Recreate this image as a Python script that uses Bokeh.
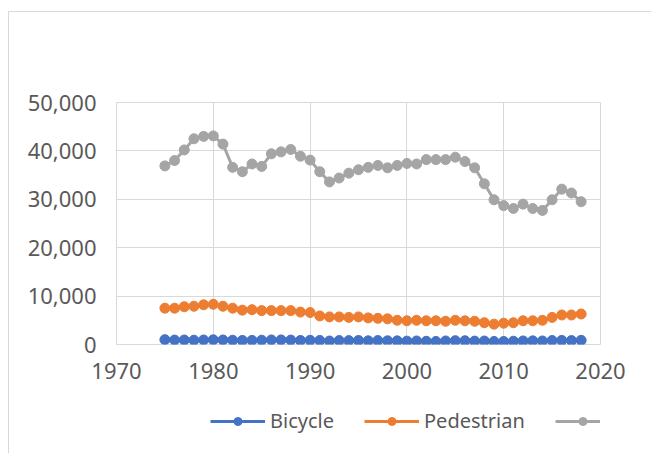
from bokeh.plotting import figure
from bokeh.layouts import column
from bokeh.models import FixedTicker, NumeralTickFormatter, Range1d, Legend, LegendItem
from bokeh.embed import file_html
from bokeh.resources import INLINE

years = list(range(1975, 2019))
bicycle = [1003, 915, 922, 892, 932, 965, 936, 883, 839, 849, 890, 941, 948, 911, 832,
           859, 843, 723, 816, 802, 833, 765, 814, 760, 754, 693, 732, 665, 629, 727,
           786, 772, 701, 718, 628, 623, 682, 734, 749, 729, 818, 852, 806, 857]
pedestrian = [7500, 7500, 7800, 7900, 8200, 8300, 7900, 7500, 7100, 7200, 7000, 7000, 7000, 7000, 6700,
              6600, 5900, 5700, 5700, 5600, 5700, 5500, 5400, 5300, 5000, 4900, 5000, 4900, 4900, 4800,
              5000, 4900, 4800, 4500, 4200, 4400, 4500, 4900, 4900, 5000, 5600, 6100, 6100, 6300]
other = [36900, 38000, 40200, 42500, 43000, 43100, 41400, 36600, 35700, 37300, 36800, 39400, 39800, 40300, 38900,
         38100, 35700, 33600, 34400, 35400, 36100, 36600, 37000, 36500, 37000, 37400, 37300, 38200, 38200, 38200,
         38700, 37800, 36500, 33200, 29900, 28700, 28100, 29000, 28100, 27700, 29900, 32100, 31300, 29500]

series_names = ["Bicycle", "Pedestrian", "Other"]
series_values = [bicycle, pedestrian, other]
colors = ["#4472C4", "#ED7D31", "#A5A5A5"]
x_ticks = [1970, 1980, 1990, 2000, 2010, 2020]
y_ticks = [0, 10000, 20000, 30000, 40000, 50000]

FONT = "Noto Sans"
TXT = "#595959"
GRID = "#d9d9d9"

# main chart
p = figure(frame_width=484, frame_height=242, output_backend="svg", toolbar_location=None,
           x_range=Range1d(1970, 2020), y_range=Range1d(0, 50000),
           min_border_left=107, min_border_right=51, min_border_top=90, min_border_bottom=45)
p.outline_line_color = GRID
p.outline_line_width = 1
p.background_fill_color = "white"
p.border_fill_color = "white"

for ax, ticks in ((p.xaxis[0], x_ticks), (p.yaxis[0], y_ticks)):
    ax.ticker = FixedTicker(ticks=ticks)
    ax.axis_line_color = None
    ax.major_tick_line_color = None
    ax.minor_tick_line_color = None
    ax.major_label_text_font = FONT
    ax.major_label_text_font_size = "22px"
    ax.major_label_text_color = TXT
p.yaxis[0].formatter = NumeralTickFormatter(format="0,0")
p.xaxis[0].major_label_standoff = 12
p.yaxis[0].major_label_standoff = 14

p.xgrid.ticker = FixedTicker(ticks=x_ticks)
p.ygrid.ticker = FixedTicker(ticks=y_ticks)
p.xgrid.grid_line_color = GRID
p.ygrid.grid_line_color = GRID

for vals, c in zip(series_values, colors):
    p.line(years, vals, line_color=c, line_width=3)
    p.scatter(years, vals, size=10, fill_color=c, line_color=c)

# legend strip: same series, drawn in a view that shows none of the data, only the legend
lg = figure(width=642, height=64, output_backend="svg", toolbar_location=None,
            x_range=Range1d(1970, 2020), y_range=Range1d(-3, -2),
            x_axis_location=None, y_axis_location=None, min_border=0)
lg.outline_line_color = None
lg.xgrid.visible = False
lg.ygrid.visible = False
lg.background_fill_color = "white"
lg.border_fill_color = "white"

items = []
for name, vals, c in zip(series_names, series_values, colors):
    r1 = lg.line(years, vals, line_color=c, line_width=3)
    r2 = lg.scatter(years, vals, size=10, fill_color=c, line_color=c)
    items.append(LegendItem(label=name, renderers=[r1, r2]))

legend = Legend(items=items, orientation="horizontal", location=(94, 19),
                glyph_width=55, glyph_height=20, label_standoff=5, spacing=30,
                label_text_font=FONT, label_text_font_size="20px", label_text_color=TXT,
                border_line_color=None, background_fill_alpha=0, padding=0, margin=0)
lg.add_layout(legend)

layout = column(p, lg, spacing=0,
                styles={"border-left": "1px solid #d9d9d9", "border-top": "1px solid #d9d9d9",
                        "margin-top": "11px", "margin-left": "8px"})

open("out.html", "w").write(file_html(layout, INLINE))
